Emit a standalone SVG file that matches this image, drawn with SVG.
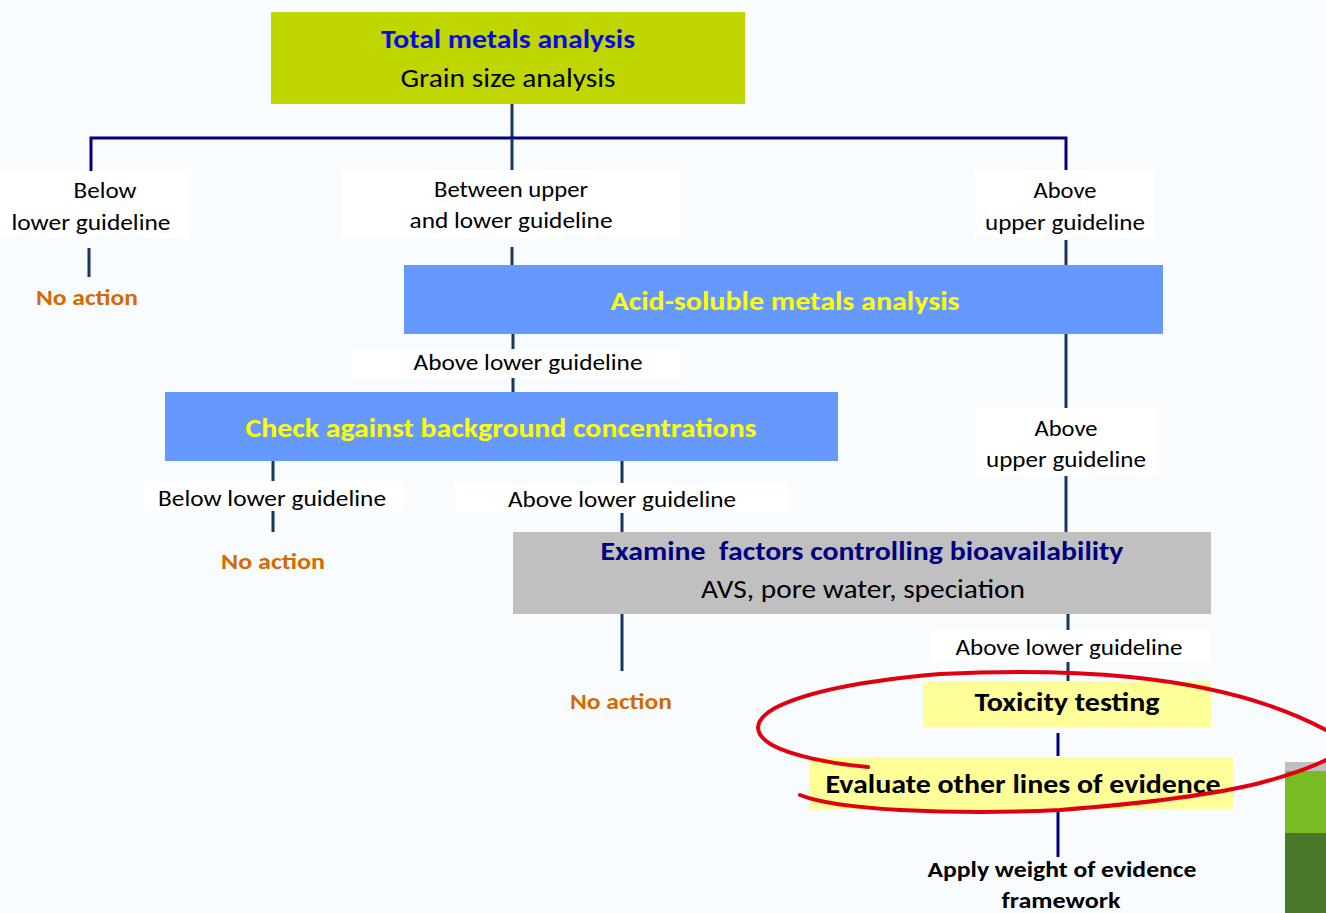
<svg xmlns="http://www.w3.org/2000/svg" width="1326" height="913" viewBox="0 0 1326 913">
<style>
text{font-family:Carlito,Lato,"Open Sans",sans-serif;text-anchor:middle}
.r{font-size:22px;fill:#000}
.b{font-weight:bold}
.na{font-size:22px;font-weight:bold;fill:#d46a00}
.t{font-size:26px}
.lbl{fill:#ffffff}
.v{stroke:#17375e;stroke-width:3;fill:none}
.h{stroke:#000080;stroke-width:3;fill:none}
.red{fill:none;stroke:#e00010;stroke-width:4;stroke-linecap:round}
</style>
<rect width="1326" height="913" fill="#f9fcff"/>
<g id="connectors">
<path class="v" d="M512 104V138"/>
<path class="h" d="M91 172V138H1066V172"/>
<path class="v" d="M512 138V172"/>
<path class="v" d="M89 248V277"/>
<path class="v" d="M512 247V265"/>
<path class="v" d="M1066 240V265"/>
<path class="v" d="M513 334V392"/>
<path class="v" d="M1066 334V532"/>
<path class="v" d="M273 461V532"/>
<path class="v" d="M622 461V532"/>
<path class="v" d="M622 614V671"/>
<path class="v" d="M1068 614V681"/>
<path class="v" d="M1058 733V756" style="stroke:#000080"/>
<path class="v" d="M1058 812V857" style="stroke:#000080"/>
</g>
<g id="total">
<rect x="271" y="12" width="474" height="92" fill="#bfd600"/>
<text x="508" y="48" class="t b" fill="#0a0ae6" textLength="254" lengthAdjust="spacingAndGlyphs">Total metals analysis</text>
<text x="508" y="87" class="t" fill="#000" textLength="215" lengthAdjust="spacingAndGlyphs">Grain size analysis</text>
</g>
<g id="lbl-below1">
<rect x="0" y="171" width="189" height="67" class="lbl"/>
<text x="105" y="198" class="r" textLength="63" lengthAdjust="spacingAndGlyphs">Below</text>
<text x="91" y="230" class="r" textLength="159" lengthAdjust="spacingAndGlyphs">lower guideline</text>
</g>
<g id="noaction1"><text x="87" y="305" class="na" textLength="102" lengthAdjust="spacingAndGlyphs">No action</text></g>
<g id="lbl-between">
<rect x="342" y="170" width="338" height="68" class="lbl"/>
<text x="511" y="197" class="r" textLength="154" lengthAdjust="spacingAndGlyphs">Between upper</text>
<text x="511" y="228" class="r" textLength="203" lengthAdjust="spacingAndGlyphs">and lower guideline</text>
</g>
<g id="lbl-above1">
<rect x="975" y="170" width="179" height="68" class="lbl"/>
<text x="1065" y="198" class="r" textLength="63" lengthAdjust="spacingAndGlyphs">Above</text>
<text x="1065" y="230" class="r" textLength="160" lengthAdjust="spacingAndGlyphs">upper guideline</text>
</g>
<g id="acid">
<rect x="404" y="265" width="759" height="69" fill="#6699ff"/>
<text x="785" y="310" class="t b" fill="#ffff00" textLength="349" lengthAdjust="spacingAndGlyphs">Acid-soluble metals analysis</text>
</g>
<g id="lbl-abovelower1">
<rect x="351" y="349" width="330" height="29" class="lbl"/>
<text x="528" y="370" class="r" textLength="229" lengthAdjust="spacingAndGlyphs">Above lower guideline</text>
</g>
<g id="lbl-above2">
<rect x="976" y="408" width="181" height="68" class="lbl"/>
<text x="1066" y="436" class="r" textLength="63" lengthAdjust="spacingAndGlyphs">Above</text>
<text x="1066" y="467" class="r" textLength="160" lengthAdjust="spacingAndGlyphs">upper guideline</text>
</g>
<g id="check">
<rect x="165" y="392" width="673" height="69" fill="#6699ff"/>
<text x="501" y="437" class="t b" fill="#ffff00" textLength="511" lengthAdjust="spacingAndGlyphs">Check against background concentrations</text>
</g>
<g id="lbl-below2">
<rect x="143" y="481" width="260" height="30" class="lbl"/>
<text x="272" y="506" class="r" textLength="228" lengthAdjust="spacingAndGlyphs">Below lower guideline</text>
</g>
<g id="noaction2"><text x="273" y="569" class="na" textLength="104" lengthAdjust="spacingAndGlyphs">No action</text></g>
<g id="lbl-abovelower2">
<rect x="455" y="483" width="333" height="30" class="lbl"/>
<text x="622" y="507" class="r" textLength="228" lengthAdjust="spacingAndGlyphs">Above lower guideline</text>
</g>
<g id="examine">
<rect x="513" y="532" width="698" height="82" fill="#c0c0c0"/>
<text x="862" y="560" class="t b" fill="#000080" textLength="523" lengthAdjust="spacingAndGlyphs" xml:space="preserve">Examine  factors controlling bioavailability</text>
<text x="863" y="598" class="t" fill="#000" textLength="324" lengthAdjust="spacingAndGlyphs">AVS, pore water, speciation</text>
</g>
<g id="noaction3"><text x="621" y="709" class="na" textLength="102" lengthAdjust="spacingAndGlyphs">No action</text></g>
<g id="lbl-abovelower3">
<rect x="930" y="630" width="280" height="32" class="lbl"/>
<text x="1069" y="655" class="r" textLength="227" lengthAdjust="spacingAndGlyphs">Above lower guideline</text>
</g>
<g id="toxicity">
<rect x="923" y="681" width="288" height="46" fill="#ffff99"/>
<text x="1067" y="711" class="t b" fill="#000" textLength="185" lengthAdjust="spacingAndGlyphs">Toxicity testing</text>
</g>
<g id="evaluate">
<rect x="809" y="757" width="424" height="52" fill="#ffff99"/>
<text x="1023" y="793" class="t b" fill="#000" textLength="395" lengthAdjust="spacingAndGlyphs">Evaluate other lines of evidence</text>
</g>
<g id="apply">
<text x="1062" y="877" class="r b" textLength="269" lengthAdjust="spacingAndGlyphs">Apply weight of evidence</text>
<text x="1061" y="908" class="r b" textLength="119" lengthAdjust="spacingAndGlyphs">framework</text>
</g>
<g id="corner">
<rect x="1285" y="762" width="41" height="9" fill="#c0c0c0"/>
<rect x="1285" y="771" width="41" height="62" fill="#78bb22"/>
<rect x="1285" y="833" width="41" height="80" fill="#4a772c"/>
</g>
<g id="highlight">
<path class="red" d="M868 767C830 764 790 755 772 745C752 733 754 720 775 708C810 690 870 680 940 674C1000 671 1070 671 1130 677C1200 684 1270 700 1326 730"/>
<path class="red" d="M800 795C820 803 850 807 900 810C960 813 1020 812 1060 810C1150 803 1220 793 1260 783C1290 775 1310 768 1326 760"/>
</g>
</svg>
